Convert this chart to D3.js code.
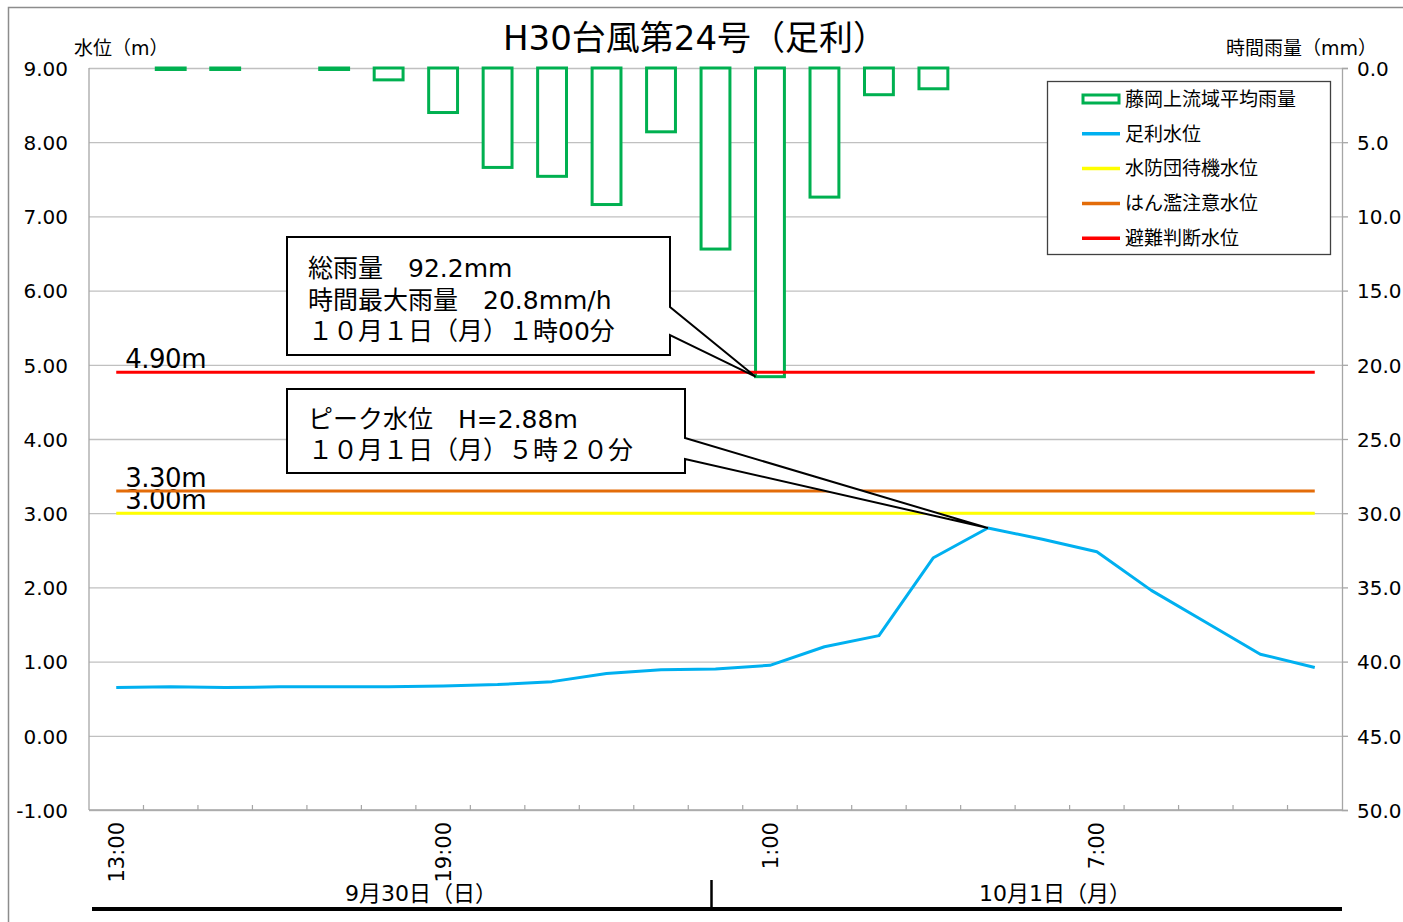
<!DOCTYPE html>
<html>
<head>
<meta charset="utf-8">
<script src="https://cdn.jsdelivr.net/npm/d3@7"></script>
<style>
body { margin: 0; background: #fff; }
text { font-family: "DejaVu Sans", "Noto Sans CJK JP", sans-serif; fill: #000; }
</style>
</head>
<body>
<svg width="1403" height="922"></svg>
<script>
var hours = ['13:00','14:00','15:00','16:00','17:00','18:00','19:00','20:00','21:00','22:00','23:00',
             '0:00','1:00','2:00','3:00','4:00','5:00','6:00','7:00','8:00','9:00','10:00','11:00'];
var rainfall = [0, 0.1, 0.1, 0, 0.1, 0.8, 3.0, 6.7, 7.3, 9.2, 4.3, 12.2,
                20.8, 8.7, 1.8, 1.4, 0, 0, 0, 0, 0, 0, 0];
var waterLevel = [0.65, 0.66, 0.65, 0.66, 0.66, 0.66, 0.67, 0.69, 0.73, 0.84, 0.89, 0.90,
                  0.95, 1.20, 1.35, 2.40, 2.80, 2.65, 2.48, 1.96, 1.53, 1.10, 0.92];
var levelTicks = [9, 8, 7, 6, 5, 4, 3, 2, 1, 0, -1];
var rainTicks = [0, 5, 10, 15, 20, 25, 30, 35, 40, 45, 50];
var hourLabels = ['13:00', '19:00', '1:00', '7:00'];
var seriesNames = ['藤岡上流域平均雨量', '足利水位'];
var thresholdNames = ['水防団待機水位', 'はん濫注意水位', '避難判断水位'];
var thresholdValues = [3.00, 3.30, 4.90];
var dayLabels = ['9月30日（日）', '10月1日（月）'];
var rainNote = ['総雨量　92.2mm', '時間最大雨量　20.8mm/h', '１０月１日（月）１時00分'];
var peakNote = ['ピーク水位　H=2.88m', '１０月１日（月）５時２０分'];

var colors = { rain: '#00B050', level: '#00B0F0', thr: ['#FFFF00', '#E36C09', '#FF0000'] };

function main() {
    var svg = d3.select('svg');
    var left = 89, right = 1342, top = 68, bottom = 810;

    var x = d3.scaleBand().domain(hours).range([left, right]).padding(0);
    var bw = x.bandwidth();
    var yL = d3.scaleLinear().domain([-1, 9]).range([bottom, top]);
    var yR = d3.scaleLinear().domain([0, 50]).range([top, bottom]);
    var cx = function(h) { return x(h) + bw / 2; };

    // outer frame
    svg.append('path').attr('d', 'M8.5,922 V7.5 H1403').attr('fill', 'none')
       .attr('stroke', '#8c8c8c').attr('stroke-width', 1.5);

    // title + axis titles
    svg.append('text').attr('x', 695).attr('y', 50).attr('text-anchor', 'middle')
       .style('font-size', '34px').text('H30台風第24号（足利）');
    svg.append('text').attr('x', 74).attr('y', 55).style('font-size', '19px').text('水位（m）');
    svg.append('text').attr('x', 1377).attr('y', 55).attr('text-anchor', 'end')
       .style('font-size', '19px').text('時間雨量（mm）');

    // left axis + grid
    var gl = svg.append('g').attr('transform', 'translate(' + left + ',0)')
        .call(d3.axisLeft(yL).tickValues(levelTicks).tickFormat(function(d) { return d.toFixed(2); })
              .tickSize(-(right - left)).tickPadding(21));
    gl.select('.domain').remove();
    gl.selectAll('line').attr('stroke', '#c0c0c0').attr('stroke-width', 1.3);
    gl.selectAll('text').style('font-size', '20px').attr('dy', '0.36em');

    // right axis
    var gr = svg.append('g').attr('transform', 'translate(' + right + ',0)')
        .call(d3.axisRight(yR).tickValues(rainTicks).tickFormat(function(d) { return d.toFixed(1); })
              .tickSize(6).tickPadding(9));
    gr.select('.domain').attr('stroke', '#a6a6a6').attr('stroke-width', 1.3);
    gr.selectAll('line').attr('stroke', '#a6a6a6').attr('stroke-width', 1.3);
    gr.selectAll('text').style('font-size', '20px').attr('dy', '0.36em');

    // left axis line
    svg.append('line').attr('x1', left).attr('x2', left).attr('y1', top).attr('y2', bottom)
       .attr('stroke', '#a6a6a6').attr('stroke-width', 1.3);

    // bottom axis: boundary ticks inward
    svg.append('line').attr('x1', left).attr('x2', right).attr('y1', bottom).attr('y2', bottom)
       .attr('stroke', '#a6a6a6').attr('stroke-width', 1.3);
    svg.append('g').selectAll('line').data(hours.slice(1)).enter().append('line')
       .attr('x1', function(d) { return x(d); }).attr('x2', function(d) { return x(d); })
       .attr('y1', bottom - 5).attr('y2', bottom)
       .attr('stroke', '#a6a6a6').attr('stroke-width', 1.2);

    var gx = svg.append('g').attr('transform', 'translate(0,' + bottom + ')')
        .call(d3.axisBottom(x).tickValues(hourLabels).tickSize(0));
    gx.select('.domain').remove();
    gx.selectAll('text')
      .attr('transform', 'rotate(-90)')
      .attr('x', -12).attr('y', 0).attr('dy', '0.36em')
      .style('text-anchor', 'end').style('font-size', '21px');

    // rain bars hanging from the top
    svg.append('g').selectAll('rect')
       .data(hours.map(function(h, i) { return { h: h, v: rainfall[i] }; })
                  .filter(function(d) { return d.v > 0; }))
       .enter().append('rect')
       .attr('x', function(d) { return x(d.h) + bw * 0.235; })
       .attr('width', bw * 0.53)
       .attr('y', yR(0))
       .attr('height', function(d) { return yR(d.v) - yR(0); })
       .attr('fill', '#fff').attr('stroke', colors.rain).attr('stroke-width', 3);

    // threshold lines
    var gt = svg.append('g');
    thresholdValues.forEach(function(v, i) {
        gt.append('line').attr('x1', cx(hours[0])).attr('x2', cx(hours[hours.length - 1]))
          .attr('y1', yL(v)).attr('y2', yL(v))
          .attr('stroke', colors.thr[i]).attr('stroke-width', 3);
        gt.append('text').attr('x', cx(hours[0]) + 9).attr('y', yL(v) - 4)
          .style('font-size', '26px').style('letter-spacing', '-0.5px').text(v.toFixed(2) + 'm');
    });

    // water level line
    var line = d3.line().x(function(d, i) { return cx(hours[i]); }).y(function(d) { return yL(d); });
    svg.append('path').datum(waterLevel).attr('d', line)
       .attr('fill', 'none').attr('stroke', colors.level).attr('stroke-width', 3)
       .attr('stroke-linejoin', 'round');

    // callouts
    function callout(box, wy0, wy1, tip, lines, baselines) {
        var p = 'M' + box[0] + ',' + box[1] + ' H' + box[2] + ' V' + wy0 +
                ' L' + tip[0] + ',' + tip[1] + ' L' + box[2] + ',' + wy1 +
                ' V' + box[3] + ' H' + box[0] + ' Z';
        svg.append('path').attr('d', p).attr('fill', '#fff')
           .attr('stroke', '#000').attr('stroke-width', 2).attr('stroke-linejoin', 'miter');
        lines.forEach(function(t, i) {
            svg.append('text').attr('x', box[0] + 21).attr('y', baselines[i])
               .style('font-size', '25px').text(t);
        });
    }
    var iMax = d3.maxIndex(rainfall);
    callout([287, 237, 670, 355], 307, 335,
            [x(hours[iMax]) + bw * 0.235, yR(rainfall[iMax])], rainNote, [277, 309, 340]);
    var iPeak = d3.maxIndex(waterLevel);
    callout([287, 389, 685, 473], 438, 459,
            [cx(hours[iPeak]), yL(waterLevel[iPeak])], peakNote, [428, 459]);

    // legend
    var lg = svg.append('g');
    lg.append('rect').attr('x', 1047.5).attr('y', 81.5).attr('width', 283).attr('height', 173)
      .attr('fill', '#fff').attr('stroke', '#404040').attr('stroke-width', 1.3);
    var names = seriesNames.concat(thresholdNames);
    var lcol = [colors.rain, colors.level].concat(colors.thr);
    names.forEach(function(n, i) {
        var yy = 99 + i * 34.8;
        if (i === 0) {
            lg.append('rect').attr('x', 1083).attr('y', yy - 4).attr('width', 36).attr('height', 8)
              .attr('fill', '#fff').attr('stroke', lcol[i]).attr('stroke-width', 3);
        } else {
            lg.append('line').attr('x1', 1082).attr('x2', 1120).attr('y1', yy).attr('y2', yy)
              .attr('stroke', lcol[i]).attr('stroke-width', 3.5);
        }
        lg.append('text').attr('x', 1125).attr('y', yy).attr('dy', '0.36em')
          .style('font-size', '19px').text(n);
    });

    // day labels under the axis
    svg.append('line').attr('x1', 92).attr('x2', right).attr('y1', 909).attr('y2', 909)
       .attr('stroke', '#000').attr('stroke-width', 4);
    svg.append('line').attr('x1', cx('0:00') - 4).attr('x2', cx('0:00') - 4).attr('y1', 880).attr('y2', 909)
       .attr('stroke', '#000').attr('stroke-width', 2.5);
    svg.append('text').attr('x', 421).attr('y', 901).attr('text-anchor', 'middle')
       .style('font-size', '22px').text(dayLabels[0]);
    svg.append('text').attr('x', 1055).attr('y', 901).attr('text-anchor', 'middle')
       .style('font-size', '22px').text(dayLabels[1]);
}
main();
</script>
</body>
</html>
